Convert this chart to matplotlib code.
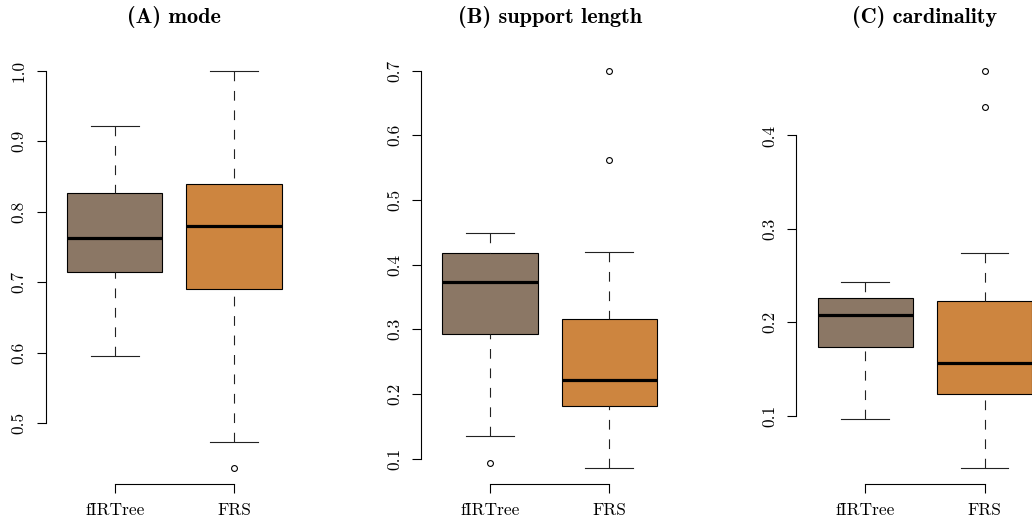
import matplotlib
matplotlib.use("Agg")
import matplotlib.pyplot as plt

# ---- data ----
titles = ["(A) mode", "(B) support length", "(C) cardinality"]
methods = ["fIRTree", "FRS"]
colors = ["#8B7765", "#CD853F"]

# per panel: [fIRTree, FRS] each (whislo, q1, med, q3, whishi)
mode_stats = [(0.595, 0.714, 0.762, 0.826, 0.921),
              (0.473, 0.691, 0.779, 0.839, 1.000)]
mode_fliers = [[], [0.436]]

support_stats = [(0.1356, 0.293, 0.373, 0.4176, 0.4495),
                 (0.085, 0.181, 0.2217, 0.3155, 0.419)]
support_fliers = [[0.093], [0.700, 0.562]]

card_stats = [(0.0965, 0.1737, 0.208, 0.2261, 0.2429),
              (0.0438, 0.1231, 0.1566, 0.2229, 0.2746)]
card_fliers = [[], [0.4694, 0.4306]]

yticks = [[0.5, 0.6, 0.7, 0.8, 0.9, 1.0],
          [0.1, 0.2, 0.3, 0.4, 0.5, 0.6, 0.7],
          [0.1, 0.2, 0.3, 0.4]]

panels = [(mode_stats, mode_fliers), (support_stats, support_fliers),
          (card_stats, card_fliers)]

# ---- layout (pixels) ----
W, H = 1032, 525
lefts = [45.5, 420.8, 796.1]
axw = 257.7
top_px, bot_px = 54.7, 484.3

plt.rcParams['lines.scale_dashes'] = False
plt.rcParams['axes.formatter.use_mathtext'] = True
fig = plt.figure(figsize=(W / 100, H / 100), dpi=100)

for k, ((stats, fliers), ticks) in enumerate(zip(panels, yticks)):
    ax = fig.add_axes([lefts[k] / W, 1 - bot_px / H, axw / W, (bot_px - top_px) / H])
    bxstats = []
    allv = []
    for (lo, q1, med, q3, hi), fl, lab in zip(stats, fliers, methods):
        bxstats.append(dict(whislo=lo, q1=q1, med=med, q3=q3, whishi=hi,
                            fliers=fl, label=lab))
        allv += [lo, hi] + list(fl)
    bp = ax.bxp(bxstats, positions=[1, 2], widths=0.8, capwidths=0.4,
                patch_artist=True, showfliers=True,
                boxprops=dict(edgecolor="black", linewidth=0.8),
                whiskerprops=dict(color="#222222", linewidth=0.8,
                                  linestyle=(0, (7.0, 7.0))),
                capprops=dict(color="#222222", linewidth=0.8),
                medianprops=dict(color="black", linewidth=2.3,
                                 solid_capstyle="butt"),
                flierprops=dict(marker="o", markersize=4.2,
                                markerfacecolor="none",
                                markeredgecolor="black",
                                markeredgewidth=0.8))
    for patch, c in zip(bp['boxes'], colors):
        patch.set_facecolor(c)
    for wl in bp['whiskers']:
        x, y = wl.get_data()
        wl.set_data(list(x)[::-1], list(y)[::-1])

    lo, hi = min(allv), max(allv)
    ext = (hi - lo) * 0.04
    ax.set_ylim(lo - ext, hi + ext)
    ax.set_xlim(0.42, 2.58)

    for s in ["top", "right"]:
        ax.spines[s].set_visible(False)
    ax.spines["left"].set_bounds(ticks[0], ticks[-1])
    ax.spines["bottom"].set_bounds(1, 2)
    for s in ["left", "bottom"]:
        ax.spines[s].set_linewidth(0.8)

    ax.set_yticks(ticks)
    ax.set_yticklabels([f"{t:.1f}" for t in ticks], rotation=90,
                       va="center", family="cmr10", fontsize=12.5)
    ax.set_xticks([1, 2])
    ax.set_xticklabels(methods, family="cmr10", fontsize=12.5)
    ax.tick_params(axis="both", length=6.5, width=0.8, pad=7)
    ax.patch.set_visible(False)

    cx = (lefts[k] + axw / 2) / W
    fig.text(cx, 1 - 17 / H, titles[k], ha="center", va="center",
             family="cmb10", fontsize=16)

fig.savefig("out.png", dpi=100)
